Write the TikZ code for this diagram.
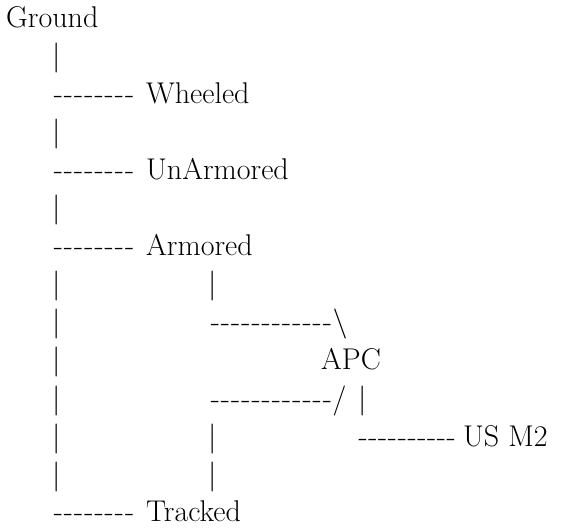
\documentclass[tikz,border=0pt]{standalone}
\newcommand\hy{\makebox[10.2pt]{-}}
\newcommand\hyb{\makebox[9.8pt]{-}}
\newcommand\dEight{\hy\hy\hy\hy\hy\hy\hy\hy}
\newcommand\dTen{\hyb\hyb\hyb\hyb\hyb\hyb\hyb\hyb\hyb\hyb}
\newcommand\dTwelve{\hy\hy\hy\hy\hy\hy\hy\hy\hy\hy\hy\hy}
\begin{document}
\begin{tikzpicture}[x=1pt,y=-1pt,
  txt/.style={anchor=base west,inner sep=0pt,font=\fontsize{30}{36}\selectfont}]
\useasboundingbox (0,0) rectangle (565,529);
\node[txt] (ground) at (6,28) {Ground};
\node[txt] (b1) at (52,66) {\textbar};
\node[txt] (d2) at (53,104) {\dEight};
\node[txt] (wheeled) at (146,104) {Wheeled};
\node[txt] (b3) at (52,142) {\textbar};
\node[txt] (d4) at (53,180) {\dEight};
\node[txt] (unarm) at (146,180) {UnArmored};
\node[txt] (b5) at (52,218) {\textbar};
\node[txt] (d6) at (53,256) {\dEight};
\node[txt] (armored) at (146,256) {Armored};
\node[txt] (l7) at (52,294) {\textbar};
\node[txt] (l8) at (52,332) {\textbar};
\node[txt] (l9) at (52,370) {\textbar};
\node[txt] (l10) at (52,408) {\textbar};
\node[txt] (l11) at (52,446) {\textbar};
\node[txt] (l12) at (52,484) {\textbar};
\node[txt] (r7) at (208,294) {\textbar};
\node[txt] (r8) at (210,332) {\dTwelve\textbackslash};
\node[txt] (apc) at (321,370) {APC};
\node[txt] (r10) at (210,408) {\dTwelve/};
\node[txt] (r10b) at (358,408) {\textbar};
\node[txt] (r11) at (208,446) {\textbar};
\node[txt] (d11) at (358,446) {\dTen};
\node[txt] (usm2) at (463,446) {US M2};
\node[txt] (r12) at (208,484) {\textbar};
\node[txt] (d13) at (53,521) {\dEight};
\node[txt] (tracked) at (146,521) {Tracked};
\end{tikzpicture}
\end{document}
